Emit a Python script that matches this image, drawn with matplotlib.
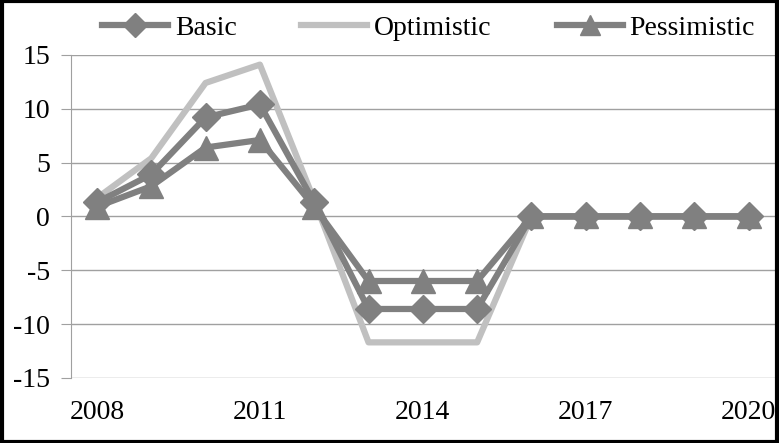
import matplotlib.pyplot as plt
from matplotlib.patches import Rectangle

years = list(range(2008, 2021))
basic = [1.3, 3.9, 9.2, 10.4, 1.3, -8.6, -8.6, -8.6, 0, 0, 0, 0, 0]
optimistic = [1.7, 5.4, 12.4, 14.1, 1.5, -11.7, -11.7, -11.7, 0, 0, 0, 0, 0]
pessimistic = [0.9, 2.8, 6.4, 7.1, 0.9, -6.0, -6.0, -6.0, 0, 0, 0, 0, 0]
xtick_years = [2008, 2011, 2014, 2017, 2020]

plt.rcParams['font.family'] = ['Liberation Serif', 'DejaVu Serif']
plt.rcParams['axes.unicode_minus'] = False

dark = '#808080'
light = '#c0c0c0'

fig = plt.figure(figsize=(7.79, 4.43), dpi=100)
ax = fig.add_axes([0.091, 0.147, 0.905, 0.729])

ax.plot(years, optimistic, color=light, lw=4.5, label='Optimistic', zorder=2)
ax.plot(years, basic, color=dark, lw=4.5, marker='D', ms=14, label='Basic', zorder=3)
ax.plot(years, pessimistic, color=dark, lw=4.5, marker='^', ms=17, label='Pessimistic', zorder=4)

ax.set_ylim(-15, 15)
ax.set_xlim(2007.52, 2020.5)
ax.set_yticks([-15, -10, -5, 0, 5, 10, 15])
ax.set_xticks(xtick_years)
ax.yaxis.grid(True, color='#a0a0a0', lw=1)
ax.set_axisbelow(True)
for s in ['top', 'right', 'bottom']:
    ax.spines[s].set_visible(False)
ax.spines['left'].set_color('#a0a0a0')
ax.tick_params(axis='y', length=7, color='#a0a0a0', labelsize=20, pad=8)
ax.tick_params(axis='x', length=0, labelsize=20, pad=16)

h, l = ax.get_legend_handles_labels()
order = [1, 0, 2]
leg = fig.legend([h[i] for i in order], [l[i] for i in order], loc='center',
                 bbox_to_anchor=(0.55, 0.937), ncol=3, frameon=False, fontsize=20,
                 handlelength=2.37, handletextpad=0.25, columnspacing=2.34,
                 borderpad=0, markerscale=0.85)

fig.patches.append(Rectangle((0.002, 0.003), 0.996, 0.994, transform=fig.transFigure,
                             fill=False, edgecolor='black', lw=3))

fig.savefig('out.png', dpi=100)
